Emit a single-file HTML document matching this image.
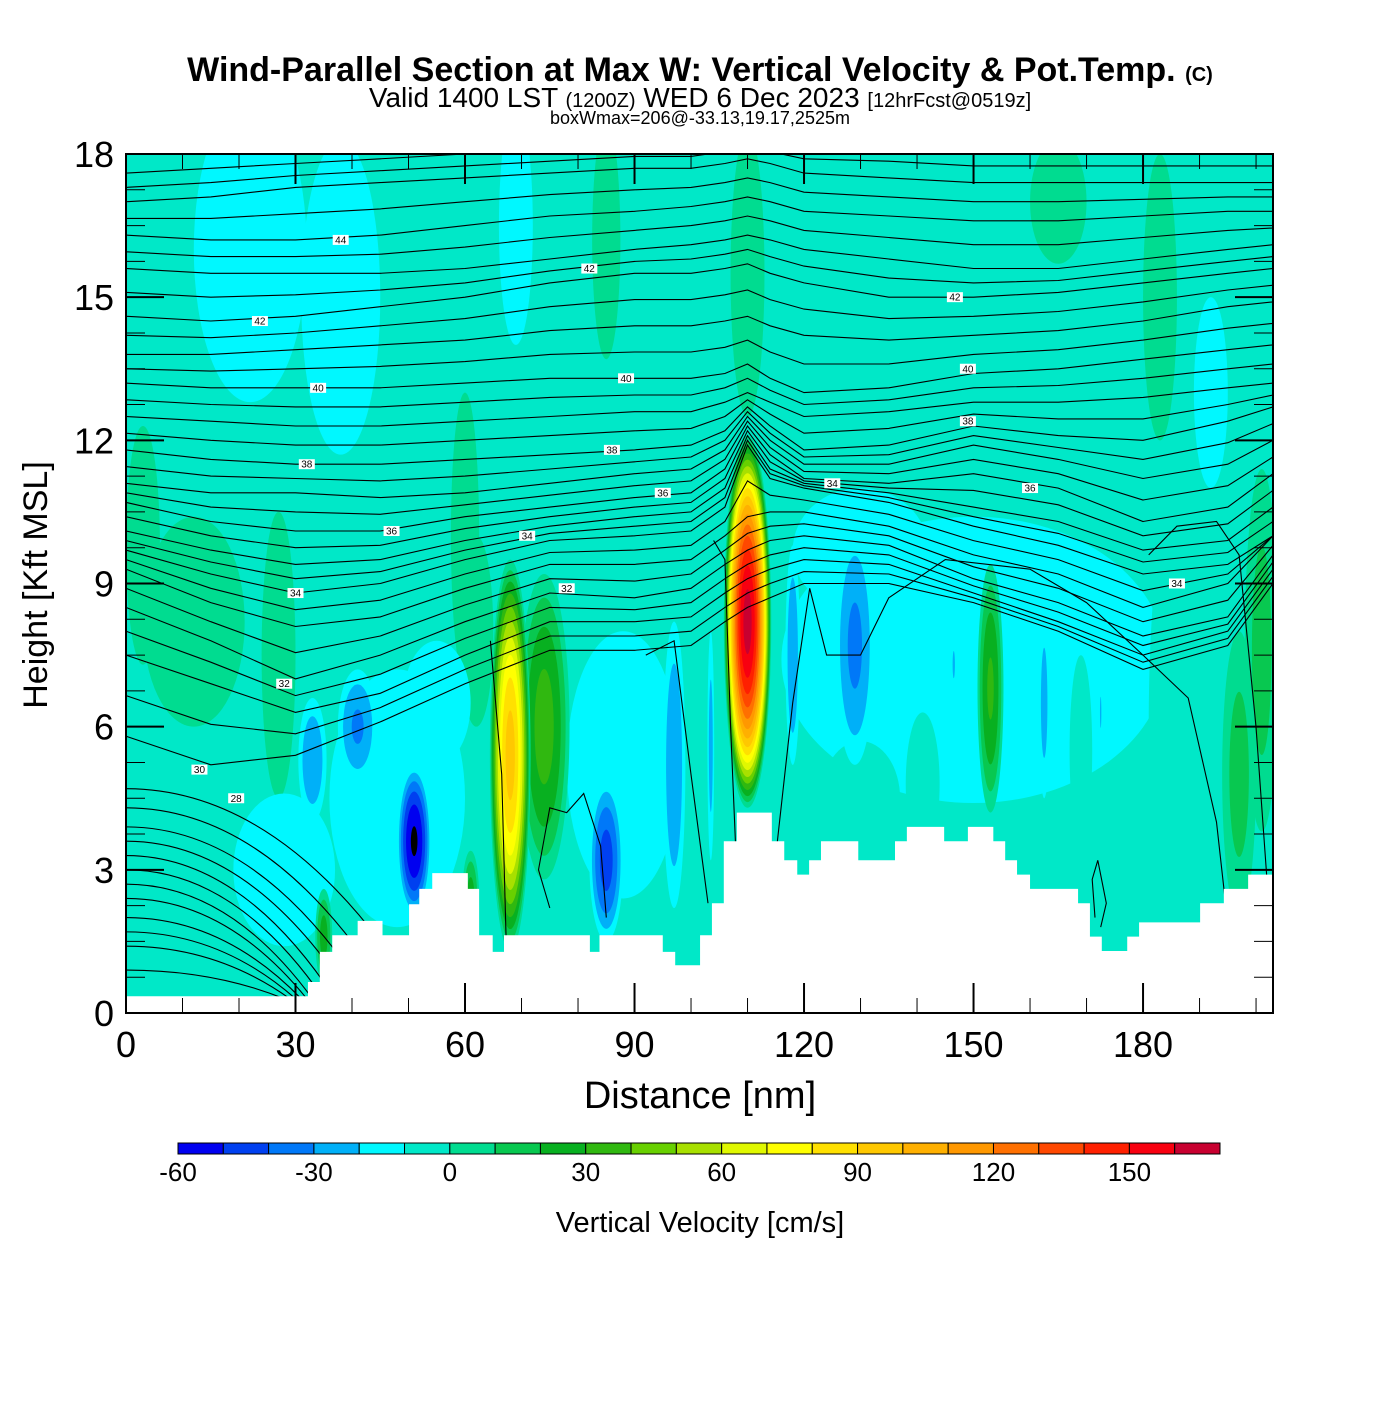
<!DOCTYPE html>
<html><head><meta charset="utf-8"><style>
body{margin:0;background:#fff}
svg text{font-family:"Liberation Sans",sans-serif}
</style></head><body>
<svg id="chart" width="1400" height="1400" viewBox="0 0 1400 1400" xmlns="http://www.w3.org/2000/svg">
<defs><clipPath id="pc"><rect x="126" y="154" width="1147" height="859"/></clipPath></defs>
<g>
<text x="700" y="81" text-anchor="middle" font-size="34" font-weight="bold">Wind-Parallel Section at Max W: Vertical Velocity &amp; Pot.Temp. <tspan font-size="20">(C)</tspan></text>
<text x="700" y="107" text-anchor="middle" font-size="28">Valid 1400 LST <tspan font-size="20">(1200Z)</tspan> WED 6 Dec 2023 <tspan font-size="20">[12hrFcst@0519z]</tspan></text>
<text x="700" y="124" text-anchor="middle" font-size="18">boxWmax=206@-33.13,19.17,2525m</text>
</g>
<rect x="126" y="154" width="1147" height="859" fill="#00e8c8"/>
<g id="field" clip-path="url(#pc)"></g>
<g id="contours" clip-path="url(#pc)"></g>
<g id="terrain" clip-path="url(#pc)"></g>
<g id="labels"></g>
<rect x="126" y="154" width="1147" height="859" fill="none" stroke="#000" stroke-width="2"/>
<g id="axes"></g>
<text x="700" y="1108" text-anchor="middle" font-size="38">Distance [nm]</text>
<text transform="translate(47,585) rotate(-90)" text-anchor="middle" font-size="34">Height [Kft MSL]</text>
<g id="cbar"></g>
<text x="700" y="1232" text-anchor="middle" font-size="29">Vertical Velocity [cm/s]</text>
</svg>
<script>
const binColors=['#0000f0','#0040f0','#0078f8','#00b0f8','#00f8ff','#00e8c8','#00dc90','#08c850','#08b020','#30b810','#68d000','#a8e000','#e0f800','#ffff00','#ffe000','#ffc800','#ffb000','#ff9800','#ff7000','#ff4800','#ff2000','#f80010','#c80030'];
const cbTicks=[-60,-30,0,30,60,90,120,150];
const xTicks=[0,30,60,90,120,150,180];
const yTicks=[0,3,6,9,12,15,18];
// velocity cells: center x (nm), center y (kft), half width (nm), half height (kft), peak (cm/s)
const cellX=[12,3,27,60,62,85,110,165,183,22,38,69,28,48,55,88,150,130,192,141,130,169,186,201,197,153,74,35,61,118,129,146.5,162.5,172.5,103.5,97,33,41,51,85,68,110];
const cellY=[8.2,9.8,7.5,10,8,16.2,15.5,17,15,16,15,16.5,3,4.5,6.5,5.2,7.4,9.7,13,4.8,4.5,5.5,6,7.6,5,6.8,6,1.6,2.4,7.5,7.7,7.3,6.5,6.3,5.6,5.2,5.3,6,3.6,3.2,5.4,8.2];
const cellW=[9,3,3,2.5,3,2.5,3,5,3,10,7,3,9,12,6,10,34,12,3,3,7,2,5,3,3,2.3,4.5,1.5,1.5,1.3,3.5,0.5,1,0.3,0.6,2,2.5,3.5,3,3,3.6,4.2];
const cellH=[2.2,2.5,3,3,2,2.5,3,1.3,3,3.2,3.3,2.5,1.6,2.7,1.3,2.8,3,1.3,2,1.5,1.2,2,5,3.8,3,2.6,3.2,1,1,2.3,2.5,0.7,2,0.8,2.4,3,1.3,1.2,1.6,1.7,4.1,3.9];
const cellPeak=[5,5,5,5,5,5,5,5,5,-15,-15,-15,-15,-15,-15,-15,-15,-15,-15,-5,-5,-5,-5,15,15,32,35,25,25,-30,-33,-22,-25,-22,-25,-30,-30,-32,-62,-45,95,165];
// terrain steps
const terrX=[0,32.2,34.3,36.5,41,45.4,50.1,51.9,54.2,60.5,62.5,64.9,66.9,82.1,83.8,95,97.2,101.6,103.7,105.8,108.1,114.3,116.5,118.8,120.9,123,129.6,136.1,138.2,144.8,149,153.5,155.6,157.7,160,168.5,170.6,172.7,177.2,179.3,190.1,194.3,198.6];
const terrH=[0.35,0.65,1.28,1.63,1.93,1.63,2.28,2.6,2.93,2.6,1.63,1.28,1.63,1.28,1.63,1.28,1.0,1.63,2.3,3.6,4.2,3.6,3.2,2.9,3.2,3.6,3.2,3.6,3.9,3.6,3.9,3.6,3.2,2.9,2.6,2.3,1.6,1.3,1.6,1.9,2.3,2.6,2.9];
// theta contours (K) heights at sample distances
const thX=[0,15,30,45,60,75,90,100,106,110,114,120,135,150,165,180,195,203];
const th46=[17.6,17.7,17.8,17.9,18.0,18.1,18.2,18.2,18.3,18.4,18.3,18.2,18.2,18.1,18.1,18.1,18.1,18.1];
const th45=[17.0,17.1,17.3,17.4,17.5,17.6,17.7,17.7,17.8,17.9,17.8,17.6,17.5,17.4,17.4,17.4,17.4,17.4];
const th44=[16.3,16.2,16.2,16.3,16.5,16.7,16.8,16.9,17.0,17.1,17.0,16.8,16.7,16.6,16.6,16.7,16.8,16.8];
const th43=[15.6,15.5,15.5,15.5,15.6,15.8,16.0,16.1,16.2,16.3,16.2,16.0,15.8,15.6,15.6,15.8,16.0,16.1];
const th42=[14.6,14.5,14.6,14.8,15.0,15.3,15.5,15.5,15.6,15.7,15.5,15.3,15.0,15.0,15.1,15.3,15.5,15.6];
const th41=[13.8,13.8,13.9,14.0,14.1,14.3,14.4,14.4,14.5,14.6,14.4,14.2,14.1,14.2,14.3,14.5,14.8,14.9];
const th40=[13.2,13.1,13.1,13.1,13.2,13.3,13.3,13.3,13.4,13.6,13.3,13.0,13.1,13.4,13.5,13.7,13.9,14.0];
const th39=[12.5,12.4,12.3,12.3,12.4,12.5,12.6,12.6,12.8,13.0,12.8,12.5,12.6,12.8,12.8,12.9,13.1,13.2];
const th38=[11.8,11.6,11.5,11.5,11.6,11.7,11.8,11.9,12.2,12.7,12.3,11.8,11.9,12.3,12.1,12.0,12.4,12.7];
const th37=[11.1,10.9,10.9,10.8,10.9,11.1,11.3,11.4,11.8,12.5,12.0,11.5,11.5,11.9,11.6,11.2,11.5,12.0];
const th36=[10.7,10.3,10.1,10.1,10.4,10.6,10.8,10.9,11.4,12.3,11.7,11.2,11.1,11.3,11.0,10.3,10.6,11.3];
const th35=[10.1,9.7,9.4,9.5,9.9,10.2,10.4,10.5,11.0,12.1,11.4,11.1,10.9,10.6,10.3,9.7,9.9,10.6];
const th34=[9.7,9.2,8.8,9.0,9.5,9.9,10.0,10.1,10.6,11.9,11.2,11.0,10.7,10.2,9.8,9.2,9.4,10.0];
const th33=[9.3,8.6,8.1,8.3,8.9,9.4,9.4,9.5,10.0,10.4,10.5,10.5,10.2,9.6,9.2,8.5,9.0,10.0];
const th32=[8.5,7.8,7.0,7.5,8.2,8.8,8.7,8.9,9.4,9.7,9.9,10.0,9.8,9.1,8.6,7.9,8.3,9.6];
const th31=[7.5,6.9,6.3,6.7,7.5,8.2,8.2,8.3,8.8,9.1,9.3,9.5,9.4,8.8,8.2,7.5,8.0,9.3];
const th30=[5.8,5.2,5.4,6.1,6.9,7.6,7.6,7.7,8.2,8.5,8.7,9.0,9.0,8.6,8.0,7.2,7.7,9.0];
const fanY0=[4.7,4.3,3.9,3.6,3.3,3.0,2.7,2.4,2.0,1.7,1.4,0.9];
const fanXEnd=[52,47,43,40,37,35,33,32,31,30,29,28];
const extraLines=[
 [[115,3.3],[118,6.5],[121,8.9],[124,7.5],[130,7.5],[135,8.7],[145,9.5],[160,9.3],[170,8.6],[180,7.5],[188,6.6],[193,4],[194.5,2.4]],
 [[64.5,7.8],[66.5,5],[67.3,1.4]],
 [[92,7.5],[97,7.8],[100,5],[103,2.3]],
 [[75,2.2],[73,3],[75,4.3],[78,4.2],[81,4.6],[84,3.5],[85,2]],
 [[202,2.7],[200,6],[197,9.6],[193,10.3],[186,10.2],[181,9.6]],
 [[171.5,2],[171,2.8],[172,3.2],[173.5,2.3],[172.5,1.8]],
 [[104,9.9],[106,9.5],[107,6],[108,3.2]]
];
const labelText=['44','42','42','42','40','40','40','38','38','38','36','36','36','34','34','34','34','32','32','30','28'];
const labelX=[38,23.7,82,146.7,34,88.5,149,32,86,149,47,95,160,30,71,125,186,28,78,13,19.5];
const labelY=[16.2,14.5,15.6,15.0,13.1,13.3,13.5,11.5,11.8,12.4,10.1,10.9,11.0,8.8,10.0,11.1,9.0,6.9,8.9,5.1,4.5];

const NS='http://www.w3.org/2000/svg';
const X=v=>126+v*(1147/203);
const Y=v=>1013-v*(859/18);
function mk(tag,attrs,parent){const e=document.createElementNS(NS,tag);for(const k in attrs)e.setAttribute(k,attrs[k]);parent.appendChild(e);return e;}
const field=document.getElementById('field');
function ell(g,i,r,color){
  const e=mk('ellipse',{cx:X(cellX[i]),cy:Y(cellY[i]),rx:cellW[i]*r*(1147/203),ry:cellH[i]*r*(859/18),fill:color},g);
  
  
}
for(let i=0;i<cellX.length;i++){
  const p=cellPeak[i];
  const g=mk('g',{},field);
  
  
  if(p>0){
    for(let L=0;L<p;L+=10) ell(g,i,Math.sqrt((p-L)/p),binColors[(L+60)/10]);
  }else if(p>-10){
    ell(g,i,1,binColors[5]);
  }else{
    for(let L=-10;L>p;L-=10) ell(g,i,Math.sqrt((L-p)/(-10-p)),binColors[(L-10+60)/10]);
  }
}
// contours
const cg=document.getElementById('contours');
const th=[th30,th31,th32,th33,th34,th35,th36,th37,th38,th39,th40,th41,th42,th43,th44,th45,th46];
function line(pts){const d='M'+pts.map(p=>X(p[0]).toFixed(1)+','+Y(p[1]).toFixed(1)).join('L');const e=mk('path',{d:d,fill:'none',stroke:'#000','stroke-width':1.1},cg);}
for(let k=0;k<th.length;k++){
  line(thX.map((x,j)=>[x,th[k][j]]));
  if(k<th.length-1) line(thX.map((x,j)=>[x,(th[k][j]+th[k+1][j])/2]));
}
for(let k=0;k<fanY0.length;k++){
  const y0=fanY0[k],xe=fanXEnd[k];
  const d=`M${X(0)},${Y(y0)} Q${X(xe*0.55)},${Y(y0*1.0)} ${X(xe)},${Y(0.3)}`;
  const e=mk('path',{d:d,fill:'none',stroke:'#000','stroke-width':1.1},cg);
  
  
}
extraLines.forEach(l=>line(l));
// terrain
const tg=document.getElementById('terrain');
let d=`M${X(0)},${Y(-1)}`;
for(let i=0;i<terrX.length;i++){const xn=i<terrX.length-1?terrX[i+1]:210;d+=`L${X(terrX[i])},${Y(terrH[i])}L${X(xn)},${Y(terrH[i])}`;}
d+=`L${X(210)},${Y(-1)}Z`;
const tp=mk('path',{d:d,fill:'#fff',stroke:'none'},tg);


// labels
const lg=document.getElementById('labels');
for(let i=0;i<labelText.length;i++){
  const g=mk('g',{},lg);
  
  
  mk('rect',{x:X(labelX[i])-8,y:Y(labelY[i])-5,width:16,height:10,fill:'#fff'},g);
  const t=mk('text',{x:X(labelX[i]),y:Y(labelY[i])+3.5,'text-anchor':'middle','font-size':10},g);t.textContent=labelText[i];
}
// axes
const ag=document.getElementById('axes');
xTicks.forEach(v=>{
  mk('line',{x1:X(v),x2:X(v),y1:1013,y2:983,stroke:'#000','stroke-width':2},ag);
  mk('line',{x1:X(v),x2:X(v),y1:154,y2:184,stroke:'#000','stroke-width':2},ag);
  const t=mk('text',{x:X(v),y:1057,'text-anchor':'middle','font-size':36},ag);t.textContent=v;
  
});
for(let v=10;v<203;v+=10){if(v%30){mk('line',{x1:X(v),x2:X(v),y1:1013,y2:998,stroke:'#000','stroke-width':1},ag);mk('line',{x1:X(v),x2:X(v),y1:154,y2:169,stroke:'#000','stroke-width':1},ag);}}
yTicks.forEach(v=>{
  mk('line',{x1:126,x2:164,y1:Y(v),y2:Y(v),stroke:'#000','stroke-width':2},ag);
  mk('line',{x1:1273,x2:1235,y1:Y(v),y2:Y(v),stroke:'#000','stroke-width':2},ag);
  const t=mk('text',{x:114,y:Y(v)+13,'text-anchor':'end','font-size':36},ag);t.textContent=v;
  
});
for(let v=0.75;v<18;v+=0.75){if(Math.abs(v%3)>0.01){mk('line',{x1:126,x2:145,y1:Y(v),y2:Y(v),stroke:'#000','stroke-width':1},ag);mk('line',{x1:1273,x2:1254,y1:Y(v),y2:Y(v),stroke:'#000','stroke-width':1},ag);}}
// colorbar
const cb=document.getElementById('cbar');
const cbX=v=>178+(v+60)*(1042/230);
binColors.forEach((c,i)=>{const r=mk('rect',{x:cbX(-60+i*10),y:1143,width:1042/23,height:11,fill:c,stroke:'#000','stroke-width':1},cb);});
cbTicks.forEach(v=>{const t=mk('text',{x:cbX(v),y:1181,'text-anchor':'middle','font-size':26},cb);t.textContent=v;});
</script>
</body></html>
